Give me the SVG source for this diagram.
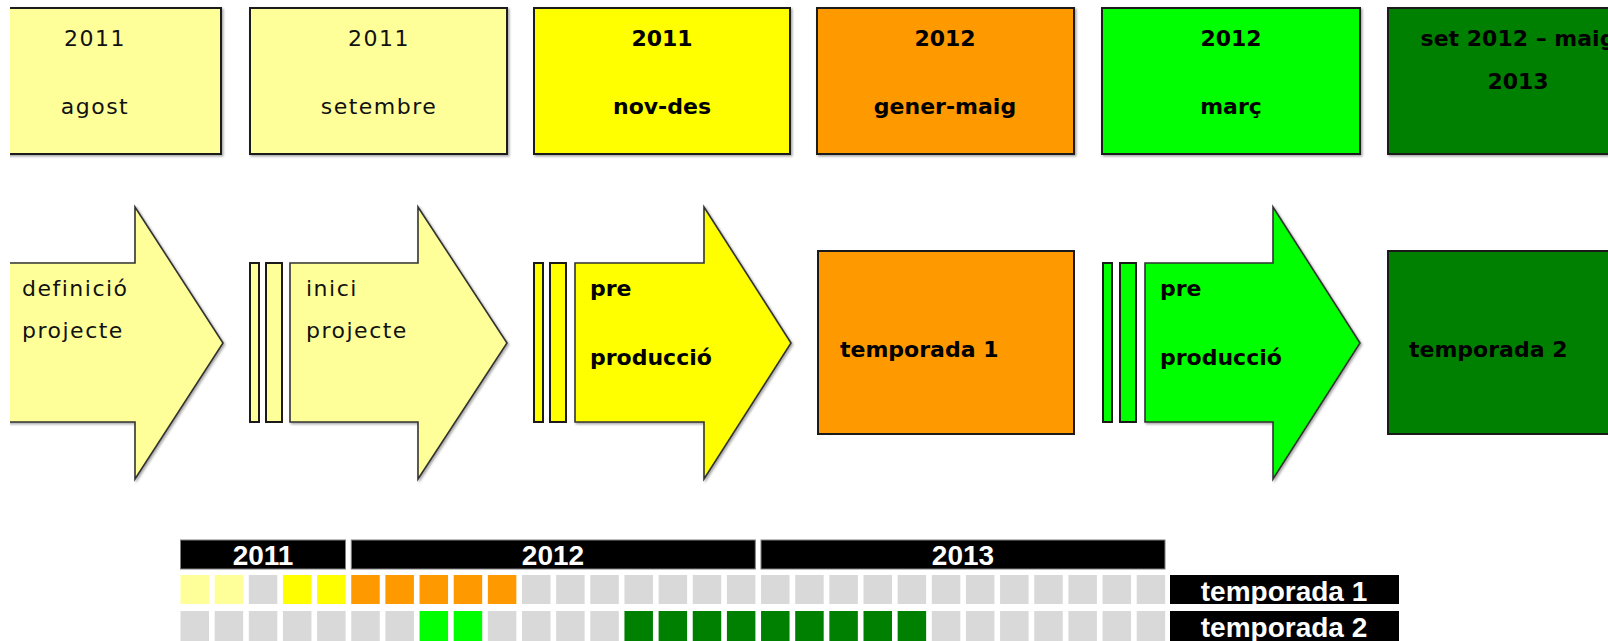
<svg xmlns="http://www.w3.org/2000/svg" width="1608" height="641" viewBox="0 0 1608 641">
<style>
.box{stroke:#1a1a1a;stroke-width:2}
.arr{stroke:#333;stroke-width:1.6;stroke-linejoin:miter}
.bar{stroke:#1a1a1a;stroke-width:2}
.t{font-family:"DejaVu Sans",sans-serif;font-size:22px;fill:#111;letter-spacing:1.5px}
.tb{font-family:"DejaVu Sans",sans-serif;font-size:22px;font-weight:bold;fill:#000}
.c{text-anchor:middle}
.hd{fill:#000;stroke:#7f7f7f;stroke-width:1}
.ht{font-family:"Liberation Sans",Arial,sans-serif;font-size:28px;font-weight:bold;fill:#fff;text-anchor:middle}
.g{fill:#d9d9d9}
.py{fill:#ffff99}.y{fill:#ffff00}.o{fill:#ff9900}.lg{fill:#00ff00}.dg{fill:#008000}
</style>
<defs>
<clipPath id="clip"><rect x="10" y="0" width="1598" height="641"/></clipPath>
<filter id="sh" x="-5%" y="-5%" width="115%" height="115%"><feDropShadow dx="1.5" dy="1.5" stdDeviation="1" flood-color="#000" flood-opacity="0.35"/></filter>
</defs>
<rect width="1608" height="641" fill="#fff"/>
<g clip-path="url(#clip)">
<!-- top boxes -->
<g id="box1"><rect class="box py" x="-10" y="8" width="231" height="146" filter="url(#sh)"/>
<text class="t c" x="95" y="46">2011</text><text class="t c" x="95" y="114">agost</text></g>
<g id="box2"><rect class="box py" x="250" y="8" width="257" height="146" filter="url(#sh)"/>
<text class="t c" x="379" y="46">2011</text><text class="t c" x="379" y="114">setembre</text></g>
<g id="box3"><rect class="box y" x="534" y="8" width="256" height="146" filter="url(#sh)"/>
<text class="tb c" x="662" y="46">2011</text><text class="tb c" x="662" y="114">nov-des</text></g>
<g id="box4"><rect class="box o" x="817" y="8" width="257" height="146" filter="url(#sh)"/>
<text class="tb c" x="945" y="46">2012</text><text class="tb c" x="945" y="114">gener-maig</text></g>
<g id="box5"><rect class="box lg" x="1102" y="8" width="258" height="146" filter="url(#sh)"/>
<text class="tb c" x="1231" y="46">2012</text><text class="tb c" x="1231" y="114">març</text></g>
<g id="box6"><rect class="box dg" x="1388" y="8" width="260" height="146" filter="url(#sh)"/>
<text class="tb c" x="1518" y="46">set 2012 – maig</text><text class="tb c" x="1518" y="89">2013</text></g>

<!-- phase arrows -->
<g id="arrow1"><polygon class="arr py" points="-20,263 135,263 135,207 223,343 135,479 135,422 -20,422" filter="url(#sh)"/>
<text class="t" x="22" y="296">definició</text><text class="t" x="22" y="338">projecte</text></g>
<g id="sep1"><rect class="bar py" x="250" y="263" width="9" height="159"/><rect class="bar py" x="266" y="263" width="16" height="159"/></g>
<g id="arrow2"><polygon class="arr py" points="290,263 418,263 418,207 507,343 418,479 418,422 290,422" filter="url(#sh)"/>
<text class="t" x="306" y="296">inici</text><text class="t" x="306" y="338">projecte</text></g>
<g id="sep2"><rect class="bar y" x="534" y="263" width="9" height="159"/><rect class="bar y" x="550" y="263" width="16" height="159"/></g>
<g id="arrow3"><polygon class="arr y" points="575,263 704,263 704,207 791,343 704,479 704,422 575,422" filter="url(#sh)"/>
<text class="tb" x="590" y="296">pre</text><text class="tb" x="590" y="365">producció</text></g>
<g id="season1"><rect class="box o" x="818" y="251" width="256" height="183"/>
<text class="tb" x="840" y="357">temporada 1</text></g>
<g id="sep3"><rect class="bar lg" x="1103" y="263" width="9" height="159"/><rect class="bar lg" x="1120" y="263" width="16" height="159"/></g>
<g id="arrow4"><polygon class="arr lg" points="1145,263 1273,263 1273,207 1360,343 1273,479 1273,422 1145,422" filter="url(#sh)"/>
<text class="tb" x="1160" y="296">pre</text><text class="tb" x="1160" y="365">producció</text></g>
<g id="season2"><rect class="box dg" x="1388" y="251" width="260" height="183"/>
<text class="tb" x="1409" y="357">temporada 2</text></g>
</g>

<!-- timeline grid -->
<g id="years">
<rect class="hd" x="180.5" y="540" width="165" height="29"/><text class="ht" x="263" y="565">2011</text>
<rect class="hd" x="351.3" y="540" width="404" height="29"/><text class="ht" x="553" y="565">2012</text>
<rect class="hd" x="761" y="540" width="404" height="29"/><text class="ht" x="963" y="565">2013</text>
</g>
<g id="row1">
<rect class="py" x="180.5" y="575" width="28.5" height="29"/>
<rect class="py" x="214.65" y="575" width="28.5" height="29"/>
<rect class="g" x="248.8" y="575" width="28.5" height="29"/>
<rect class="y" x="282.95" y="575" width="28.5" height="29"/>
<rect class="y" x="317.1" y="575" width="28.5" height="29"/>
<rect class="o" x="351.25" y="575" width="28.5" height="29"/>
<rect class="o" x="385.4" y="575" width="28.5" height="29"/>
<rect class="o" x="419.55" y="575" width="28.5" height="29"/>
<rect class="o" x="453.7" y="575" width="28.5" height="29"/>
<rect class="o" x="487.85" y="575" width="28.5" height="29"/>
<rect class="g" x="522" y="575" width="28.5" height="29"/>
<rect class="g" x="556.15" y="575" width="28.5" height="29"/>
<rect class="g" x="590.3" y="575" width="28.5" height="29"/>
<rect class="g" x="624.45" y="575" width="28.5" height="29"/>
<rect class="g" x="658.6" y="575" width="28.5" height="29"/>
<rect class="g" x="692.75" y="575" width="28.5" height="29"/>
<rect class="g" x="726.9" y="575" width="28.5" height="29"/>
<rect class="g" x="761.05" y="575" width="28.5" height="29"/>
<rect class="g" x="795.2" y="575" width="28.5" height="29"/>
<rect class="g" x="829.35" y="575" width="28.5" height="29"/>
<rect class="g" x="863.5" y="575" width="28.5" height="29"/>
<rect class="g" x="897.65" y="575" width="28.5" height="29"/>
<rect class="g" x="931.8" y="575" width="28.5" height="29"/>
<rect class="g" x="965.95" y="575" width="28.5" height="29"/>
<rect class="g" x="1000.1" y="575" width="28.5" height="29"/>
<rect class="g" x="1034.25" y="575" width="28.5" height="29"/>
<rect class="g" x="1068.4" y="575" width="28.5" height="29"/>
<rect class="g" x="1102.55" y="575" width="28.5" height="29"/>
<rect class="g" x="1136.7" y="575" width="28.5" height="29"/>
<rect fill="#000" x="1170" y="575" width="229" height="29"/>
<text class="ht" x="1284" y="601">temporada 1</text>
</g>
<g id="row2">
<rect class="g" x="180.5" y="611" width="28.5" height="30"/>
<rect class="g" x="214.65" y="611" width="28.5" height="30"/>
<rect class="g" x="248.8" y="611" width="28.5" height="30"/>
<rect class="g" x="282.95" y="611" width="28.5" height="30"/>
<rect class="g" x="317.1" y="611" width="28.5" height="30"/>
<rect class="g" x="351.25" y="611" width="28.5" height="30"/>
<rect class="g" x="385.4" y="611" width="28.5" height="30"/>
<rect class="lg" x="419.55" y="611" width="28.5" height="30"/>
<rect class="lg" x="453.7" y="611" width="28.5" height="30"/>
<rect class="g" x="487.85" y="611" width="28.5" height="30"/>
<rect class="g" x="522" y="611" width="28.5" height="30"/>
<rect class="g" x="556.15" y="611" width="28.5" height="30"/>
<rect class="g" x="590.3" y="611" width="28.5" height="30"/>
<rect class="dg" x="624.45" y="611" width="28.5" height="30"/>
<rect class="dg" x="658.6" y="611" width="28.5" height="30"/>
<rect class="dg" x="692.75" y="611" width="28.5" height="30"/>
<rect class="dg" x="726.9" y="611" width="28.5" height="30"/>
<rect class="dg" x="761.05" y="611" width="28.5" height="30"/>
<rect class="dg" x="795.2" y="611" width="28.5" height="30"/>
<rect class="dg" x="829.35" y="611" width="28.5" height="30"/>
<rect class="dg" x="863.5" y="611" width="28.5" height="30"/>
<rect class="dg" x="897.65" y="611" width="28.5" height="30"/>
<rect class="g" x="931.8" y="611" width="28.5" height="30"/>
<rect class="g" x="965.95" y="611" width="28.5" height="30"/>
<rect class="g" x="1000.1" y="611" width="28.5" height="30"/>
<rect class="g" x="1034.25" y="611" width="28.5" height="30"/>
<rect class="g" x="1068.4" y="611" width="28.5" height="30"/>
<rect class="g" x="1102.55" y="611" width="28.5" height="30"/>
<rect class="g" x="1136.7" y="611" width="28.5" height="30"/>
<rect fill="#000" x="1170" y="611" width="229" height="30"/>
<text class="ht" x="1284" y="637">temporada 2</text>
</g>
<g id="connectors"/>
</svg>
